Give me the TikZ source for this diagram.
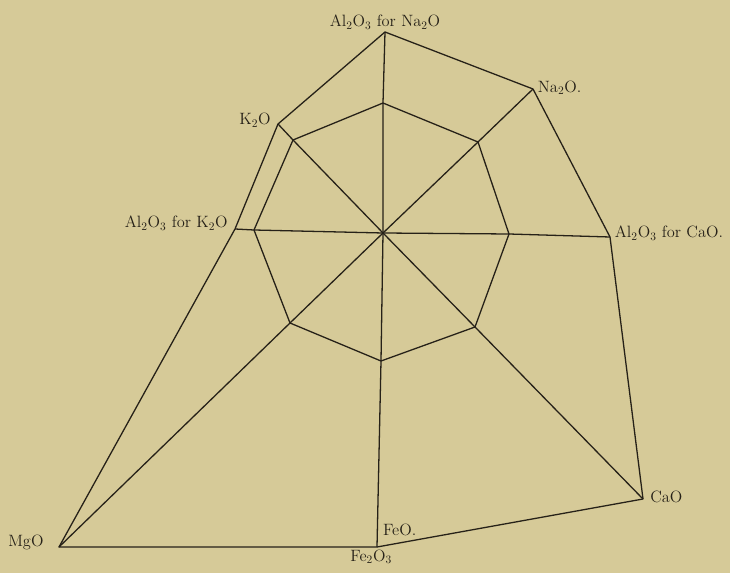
\documentclass[tikz,border=0pt]{standalone}
\usepackage{tikz}
\usetikzlibrary{positioning}
\definecolor{paper}{RGB}{214,202,152}
\definecolor{ink}{RGB}{38,33,24}

\begin{document}
\begin{tikzpicture}[
  x=0.03cm, y=-0.03cm,
  line/.style={draw=ink, line width=1.1pt, line join=round},
  lbl/.style={text=ink, inner sep=1pt, font=\fontsize{14}{16}\selectfont}
]
\fill[paper] (0,0) rectangle (730,573);
\useasboundingbox (0,0) rectangle (730,573);

% outer corners
\coordinate (alna) at (385,32);
\coordinate (na) at (533,89);
\coordinate (alc) at (610,237);
\coordinate (cao) at (643,499);
\coordinate (fe) at (377,547);
\coordinate (mg) at (59,547);
\coordinate (alk) at (235,229);
\coordinate (k2o) at (278,124);
\coordinate (c) at (383,233);

% inner octagon
\coordinate (o1) at (383,103);
\coordinate (o2) at (478,142);
\coordinate (o3) at (509,234);
\coordinate (o4) at (475,327);
\coordinate (o5) at (381,361);
\coordinate (o6) at (290,323);
\coordinate (o7) at (254,230);
\coordinate (o8) at (293,140);

\node[lbl, above=1pt of alna] {Al\textsubscript{2}O\textsubscript{3} for Na\textsubscript{2}O};
\node[lbl, right=3pt of na, yshift=1pt] {Na\textsubscript{2}O.};
\node[lbl, right=3pt of alc, yshift=3pt] {Al\textsubscript{2}O\textsubscript{3} for CaO.};
\node[lbl, right=5pt of cao, yshift=2pt] {CaO};
\node[lbl, above right=8pt and 4pt of fe] {FeO.};
\node[lbl, below=1pt of fe, xshift=-5pt] {Fe\textsubscript{2}O\textsubscript{3}};
\node[lbl, left=12pt of mg, yshift=4pt] {MgO};
\node[lbl, left=5pt of alk, yshift=5pt] {Al\textsubscript{2}O\textsubscript{3} for K\textsubscript{2}O};
\node[lbl, left=5pt of k2o, yshift=3pt] {K\textsubscript{2}O};

\draw[line] (alna) -- (na) -- (alc) -- (cao) -- (fe) -- (mg) -- (alk) -- (k2o) -- cycle;
\draw[line] (o1) -- (o2) -- (o3) -- (o4) -- (o5) -- (o6) -- (o7) -- (o8) -- cycle;
\draw[line] (alna) -- (o1) -- (c) -- (o5) -- (fe);
\draw[line] (alk) -- (o7) -- (c) -- (o3) -- (alc);
\draw[line] (k2o) -- (o8) -- (c) -- (o4) -- (cao);
\draw[line] (na) -- (o2) -- (c) -- (o6) -- (mg);
\end{tikzpicture}
\end{document}
